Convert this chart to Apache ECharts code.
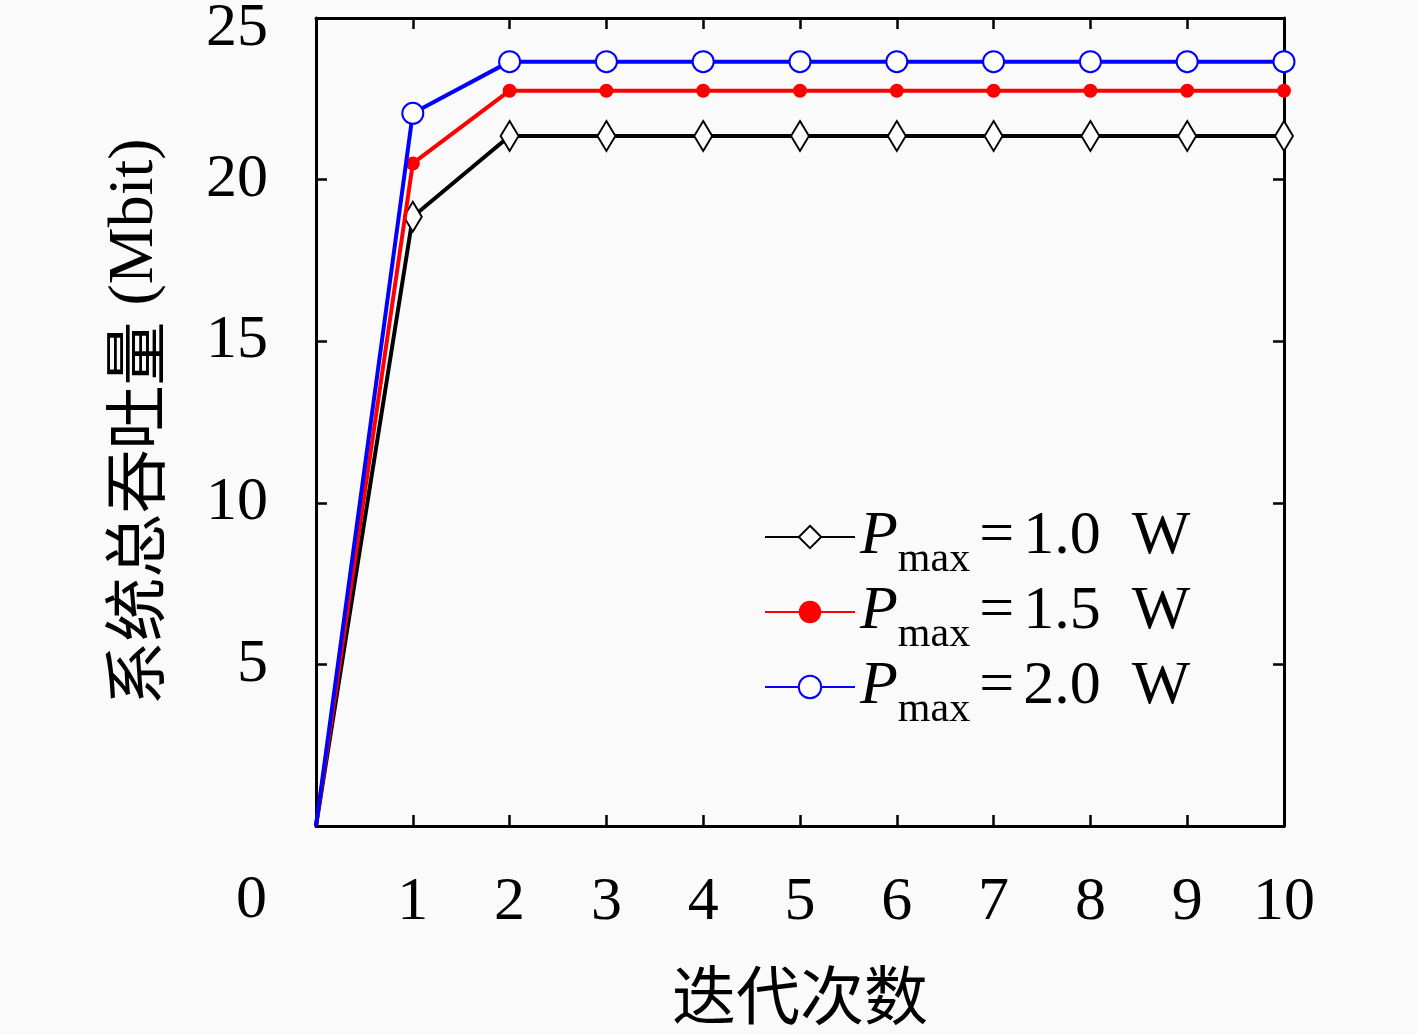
<!DOCTYPE html>
<html>
<head>
<meta charset="utf-8">
<script src="https://cdn.jsdelivr.net/npm/echarts@6/dist/echarts.min.js"></script>
<style>
  html, body { margin: 0; padding: 0; background: #fafafa; }
  #chart { width: 1417px; height: 1035px; }
</style>
</head>
<body>
<div id="chart"></div>
<script>
// 迭代次数 / 系统总吞吐量
const iterations = [0, 1, 2, 3, 4, 5, 6, 7, 8, 9, 10];
const p10 = [0, 18.85, 21.35, 21.35, 21.35, 21.35, 21.35, 21.35, 21.35, 21.35, 21.35];
const p15 = [0, 20.5, 22.75, 22.75, 22.75, 22.75, 22.75, 22.75, 22.75, 22.75, 22.75];
const p20 = [0, 22.05, 23.65, 23.65, 23.65, 23.65, 23.65, 23.65, 23.65, 23.65, 23.65];
const seriesNames = ['1.0', '1.5', '2.0'];

const chart = echarts.init(document.getElementById('chart'), null, {renderer: 'canvas'});
const serif = '"Liberation Serif", "DejaVu Serif", serif';
const cjk = '"Noto Sans CJK SC", sans-serif';

// 起点 (0,0) 不画标记
function pairs(vals){
    return iterations.map((x, i) => i === 0 ? {value: [x, vals[i]], symbol: 'none'} : [x, vals[i]]);
}

const tickCommon = {show: true, inside: true, length: 11, lineStyle: {color: '#000', width: 2.5}};
const lineCommon = {show: true, onZero: false, lineStyle: {color: '#000', width: 3}};

const option = {
    backgroundColor: '#fafafa',
    animation: false,
    grid: {
        left: 316, top: 18, right: 133, bottom: 209,
        outerBoundsMode: 'none', containLabel: false,
        show: true, backgroundColor: '#fafafa', borderWidth: 0
    },
    legend: {
        left: 759, top: 501, orient: 'vertical',
        itemWidth: 90, itemHeight: 28, itemGap: 0,
        data: seriesNames,
        formatter: n => '{p|P}{s|max}{e|=}{t|' + n + '\u2002W}',
        textStyle: {
            color: '#000',
            rich: {
                p: {fontFamily: serif, fontStyle: 'italic', fontSize: 62, lineHeight: 60, color: '#000'},
                // 下标：顶部对齐再用 padding 下移
                s: {fontFamily: serif, fontSize: 42, lineHeight: 8, color: '#000', verticalAlign: 'top', padding: [32, 0, 0, 0]},
                e: {fontFamily: serif, fontSize: 62, lineHeight: 60, color: '#000', padding: [0, 9, 0, 9]},
                t: {fontFamily: serif, fontSize: 62, lineHeight: 60, color: '#000'}
            }
        }
    },
    xAxis: [
        {
            type: 'value', position: 'bottom', min: 0, max: 10, interval: 1,
            name: '迭代次数', nameLocation: 'middle', nameGap: 137,
            nameTextStyle: {fontFamily: cjk, fontSize: 64, color: '#000'},
            axisLine: lineCommon, axisTick: tickCommon, splitLine: {show: false},
            axisLabel: {show: true, showMinLabel: false, margin: 46, fontFamily: serif, fontSize: 62, color: '#000'}
        },
        {
            type: 'value', position: 'top', min: 0, max: 10, interval: 1,
            axisLine: lineCommon, axisTick: tickCommon, splitLine: {show: false},
            axisLabel: {show: false}
        }
    ],
    yAxis: [
        {
            type: 'value', position: 'left', min: 0, max: 25, interval: 5,
            name: '{c|系统总吞吐量}{m| (Mbit)}', nameLocation: 'middle', nameGap: 149,
            nameTextStyle: {
                color: '#000',
                rich: {
                    c: {fontFamily: cjk, fontSize: 64, color: '#000'},
                    m: {fontFamily: serif, fontSize: 64, color: '#000'}
                }
            },
            axisLine: lineCommon, axisTick: tickCommon, splitLine: {show: false},
            axisLabel: {
                show: true, showMinLabel: false, margin: 48, fontFamily: serif, fontSize: 62, color: '#000',
                // 顶端刻度标签下移，避免被裁切
                formatter: v => v === 25 ? '{top|25}' : String(v),
                rich: {top: {fontFamily: serif, fontSize: 62, color: '#000', padding: [22, 0, 0, 0]}}
            }
        },
        {
            type: 'value', position: 'right', min: 0, max: 25, interval: 5,
            axisLine: lineCommon, axisTick: tickCommon, splitLine: {show: false},
            axisLabel: {show: false}
        }
    ],
    graphic: [
        {type: 'text', left: 236, top: 870, style: {text: '0', font: '62px ' + serif, fill: '#000'}}
    ],
    series: [
        {
            name: '1.0', type: 'line', data: pairs(p10),
            symbol: 'emptyDiamond', symbolSize: [18, 30], showAllSymbol: true,
            lineStyle: {color: '#000', width: 4}, itemStyle: {color: '#000', borderWidth: 3.5}, z: 2
        },
        {
            name: '1.5', type: 'line', data: pairs(p15),
            symbol: 'circle', symbolSize: 14, showAllSymbol: true,
            lineStyle: {color: '#ff0000', width: 4}, itemStyle: {color: '#ff0000'}, z: 3
        },
        {
            name: '2.0', type: 'line', data: pairs(p20),
            symbol: 'emptyCircle', symbolSize: 21, showAllSymbol: true,
            lineStyle: {color: '#0000ff', width: 4}, itemStyle: {color: '#0000ff', borderWidth: 3.5}, z: 4
        }
    ]
};
chart.setOption(option);
window.addEventListener('resize', () => chart.resize());
</script>
</body>
</html>
